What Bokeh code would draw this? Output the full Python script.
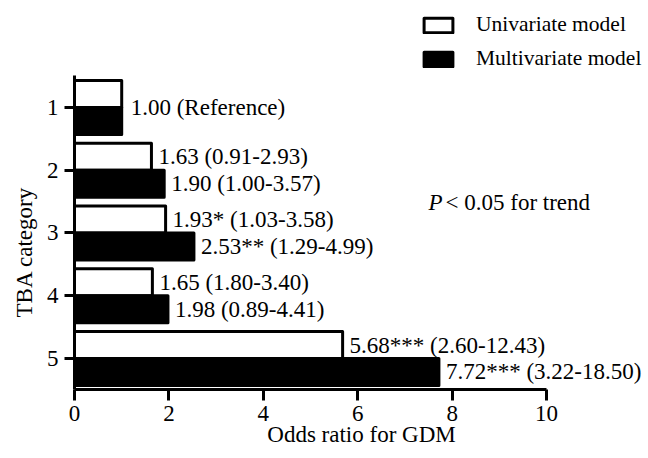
from bokeh.plotting import figure
from bokeh.models import Range1d, Legend, LegendItem, Label, ColumnDataSource, FixedTicker, Title
from bokeh.embed import file_html
from bokeh.resources import INLINE
from bokeh.core.properties import value

# ---- data ----
categories = [1, 2, 3, 4, 5]
univariate = [1.00, 1.63, 1.93, 1.65, 5.68]
multivariate = [1.00, 1.90, 2.53, 1.98, 7.72]
uni_labels = ["", "1.63 (0.91-2.93)", "1.93* (1.03-3.58)", "1.65 (1.80-3.40)", "5.68*** (2.60-12.43)"]
multi_labels = ["", "1.90 (1.00-3.57)", "2.53** (1.29-4.99)", "1.98 (0.89-4.41)", "7.72*** (3.22-18.50)"]
reference_label = "1.00 (Reference)"
x_ticks = [0, 2, 4, 6, 8, 10]
series_names = ["Univariate model", "Multivariate model"]
x_title = "Odds ratio for GDM"
y_title = "TBA category"
trend_p = "P"
trend_rest = " < 0.05 for trend"

FONT = "'Liberation Serif'"
FS = "23px"
BAR_H = 0.43
OFF = 0.215

uni_src = ColumnDataSource(dict(y=[c - OFF for c in categories], right=univariate, label=uni_labels))
multi_src = ColumnDataSource(dict(y=[c + OFF for c in categories], right=multivariate, label=multi_labels))
ref_src = ColumnDataSource(dict(y=[categories[0]], x=[max(univariate[0], multivariate[0])], label=[reference_label]))

p = figure(width=648, height=458, output_backend="svg", toolbar_location=None,
           x_range=Range1d(0, 12.16), y_range=Range1d(5.494, -0.705),
           min_border_left=74, min_border_right=0, min_border_top=0, min_border_bottom=69)
p.outline_line_color = None
p.grid.visible = False
p.background_fill_color = "white"

r_uni = p.hbar(y="y", right="right", left=0, height=BAR_H, source=uni_src,
               fill_color="white", line_color="black", line_width=3, line_join="round")
r_multi = p.hbar(y="y", right="right", left=0, height=BAR_H, source=multi_src,
                 fill_color="black", line_color="black", line_width=3, line_join="round")

for src in (uni_src, multi_src):
    p.text(x="right", y="y", text="label", source=src, x_offset=7,
           text_font=value(FONT), text_font_size=FS, text_baseline="middle", text_align="left",
           text_color="black")
p.text(x="x", y="y", text="label", source=ref_src, x_offset=9,
       text_font=value(FONT), text_font_size=FS, text_baseline="middle", text_align="left",
       text_color="black")

# axes
for ax in (p.xaxis, p.yaxis):
    ax.axis_line_width = 3
    ax.axis_line_color = "black"
    ax.major_tick_line_width = 3
    ax.major_tick_line_color = "black"
    ax.major_tick_in = 0
    ax.minor_tick_line_color = None
    ax.major_label_text_font = FONT
    ax.major_label_text_font_size = FS
    ax.major_label_text_color = "black"
    ax.axis_label_text_font = FONT
    ax.axis_label_text_font_size = FS
    ax.axis_label_text_font_style = "normal"
    ax.axis_label_text_color = "black"

p.xaxis.ticker = FixedTicker(ticks=x_ticks)
p.xaxis.bounds = (0, 10)
p.xaxis.major_tick_out = 11
p.xaxis.major_label_standoff = 5
p.xaxis.axis_label = x_title
p.xaxis.axis_label_standoff = -2

p.yaxis.ticker = FixedTicker(ticks=categories)
p.yaxis.bounds = (0.49, 5.49)
p.yaxis.major_tick_out = 10
p.yaxis.major_label_standoff = 6

p.add_layout(Title(text=y_title, align="left", offset=72, text_font=FONT,
                   text_font_size=FS, text_font_style="normal", text_color="black",
                   standoff=13), "left")

p.add_layout(Label(x=7.5, y=2.51, text=trend_p, text_font=FONT, text_font_size=FS,
                   text_font_style="italic", text_baseline="middle", text_color="black"))
p.add_layout(Label(x=7.5, y=2.51, x_offset=17, text=trend_rest, text_font=FONT, text_font_size=FS,
                   text_baseline="middle", text_color="black"))

legend = Legend(items=[LegendItem(label=series_names[0], renderers=[r_uni]),
                       LegendItem(label=series_names[1], renderers=[r_multi])],
                location=(346, 318), padding=0, margin=0, spacing=9,
                glyph_width=36, glyph_height=18, label_standoff=20,
                label_text_font=FONT, label_text_font_size="21.5px", label_text_color="black",
                border_line_color=None, background_fill_alpha=0)
p.add_layout(legend)

open("out.html", "w").write(file_html(p, INLINE))
